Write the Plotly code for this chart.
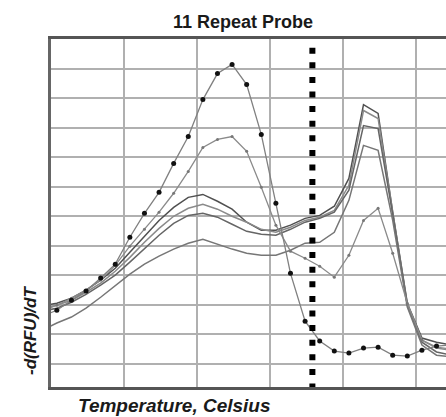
import plotly.graph_objects as go

# Temperatures (Celsius) at which the derivative was sampled
temps = [44.4 + i for i in range(29)]

# -d(RFU)/dT for each melt curve
probe_dots = [1.62, 1.82, 2.16, 2.47, 2.91, 3.38, 4.29, 5.10, 5.81, 6.79, 7.70, 8.95, 9.83, 10.14, 9.46,
              7.77, 5.44, 3.07, 1.45, 0.78, 0.44, 0.37, 0.54, 0.57, 0.30, 0.27, 0.47, 0.61, 0.64]
probe_ticks = [1.79, 1.99, 2.23, 2.50, 2.84, 3.34, 3.99, 4.56, 5.14, 5.78, 6.52, 7.33, 7.60, 7.70, 7.20,
               5.98, 4.70, 3.82, 3.58, 3.31, 2.94, 3.68, 4.86, 5.27, 3.75, 2.06, 0.81, 0.57, 0.51]
curve_a = [1.96, 2.06, 2.23, 2.50, 2.84, 3.24, 3.78, 4.32, 4.86, 5.30, 5.64, 5.74, 5.51, 5.24, 4.80,
           4.53, 4.53, 4.70, 4.93, 5.03, 5.34, 6.28, 8.78, 8.48, 5.14, 2.06, 0.88, 0.74, 0.64]
curve_b = [1.89, 1.99, 2.16, 2.43, 2.74, 3.14, 3.61, 4.12, 4.59, 5.00, 5.27, 5.41, 5.24, 5.00, 4.80,
           4.56, 4.46, 4.63, 4.86, 4.97, 5.20, 6.05, 8.58, 8.31, 5.14, 2.03, 0.81, 0.54, 0.47]
curve_c = [1.79, 1.89, 2.09, 2.36, 2.67, 3.01, 3.45, 3.92, 4.36, 4.76, 5.03, 5.10, 4.97, 4.73, 4.49,
           4.39, 4.36, 4.56, 4.80, 4.93, 5.14, 5.88, 8.07, 7.97, 5.07, 1.99, 0.74, 0.41, 0.30]
curve_d = [1.15, 1.39, 1.59, 1.89, 2.26, 2.64, 3.04, 3.38, 3.65, 3.89, 4.09, 4.22, 4.05, 3.89, 3.75,
           3.68, 3.68, 3.85, 4.09, 4.12, 4.46, 5.54, 7.40, 7.23, 4.86, 1.93, 0.64, 0.30, 0.24]

marker_temp = 62.9  # dotted reference temperature

fig = go.Figure()

smooth = [(curve_a, "#505050"), (curve_b, "#8a8a8a"), (curve_c, "#656565"), (curve_d, "#767676")]
for vals, col in smooth:
    fig.add_trace(go.Scatter(x=temps, y=vals, mode="lines",
                             line=dict(color=col, width=1.5), showlegend=False))

fig.add_trace(go.Scatter(x=temps, y=probe_ticks, mode="lines+markers",
                         line=dict(color="#8a8a8a", width=1.3),
                         marker=dict(color="#777777", size=3), showlegend=False))

fig.add_trace(go.Scatter(x=temps, y=probe_dots, mode="lines+markers",
                         line=dict(color="#808080", width=1.3),
                         marker=dict(color="#111111", size=5), showlegend=False))

fig.add_shape(type="line", xref="x", yref="y", x0=marker_temp, x1=marker_temp,
              y0=11.2, y1=-0.8, line=dict(color="black", width=6, dash="6px,8.6px"),
              layer="above")

fig.update_layout(
    width=446, height=417,
    margin=dict(l=51, r=0, t=39, b=30),
    paper_bgcolor="white", plot_bgcolor="white",
    title=dict(text="<b>11 Repeat Probe</b>", x=243 / 446, xanchor="center", y=1 - 22 / 417,
               yanchor="middle", font=dict(family="Liberation Sans, Arial", size=18, color="#1a1a1a")),
    xaxis=dict(range=[45, 72.05], tick0=45, dtick=5, showticklabels=False, ticks="",
               showgrid=True, gridcolor="#b0b0b0", gridwidth=2, zeroline=False,
               showline=True, linecolor="#555555", linewidth=3, mirror=True),
    yaxis=dict(range=[-0.777, 11.0], tick0=0, dtick=1, showticklabels=False, ticks="",
               showgrid=True, gridcolor="#b0b0b0", gridwidth=2, zeroline=False,
               showline=True, linecolor="#666666", linewidth=3),
    annotations=[
        dict(text="<b><i>Temperature, Celsius</i></b>", xref="paper", yref="paper",
             x=(76 - 51) / 395, xanchor="left", y=-(405 - 387) / 348, yanchor="middle",
             showarrow=False, font=dict(family="Liberation Sans, Arial", size=19, color="#1a1a1a")),
        dict(text="<b><i>-d(RFU)/dT</i></b>", xref="paper", yref="paper", textangle=-90,
             x=(30 - 51) / 395, xanchor="center", y=(387 - 331) / 348, yanchor="middle",
             showarrow=False, font=dict(family="Liberation Sans, Arial", size=17, color="#1a1a1a")),
    ],
)

fig.write_html("out.html")
